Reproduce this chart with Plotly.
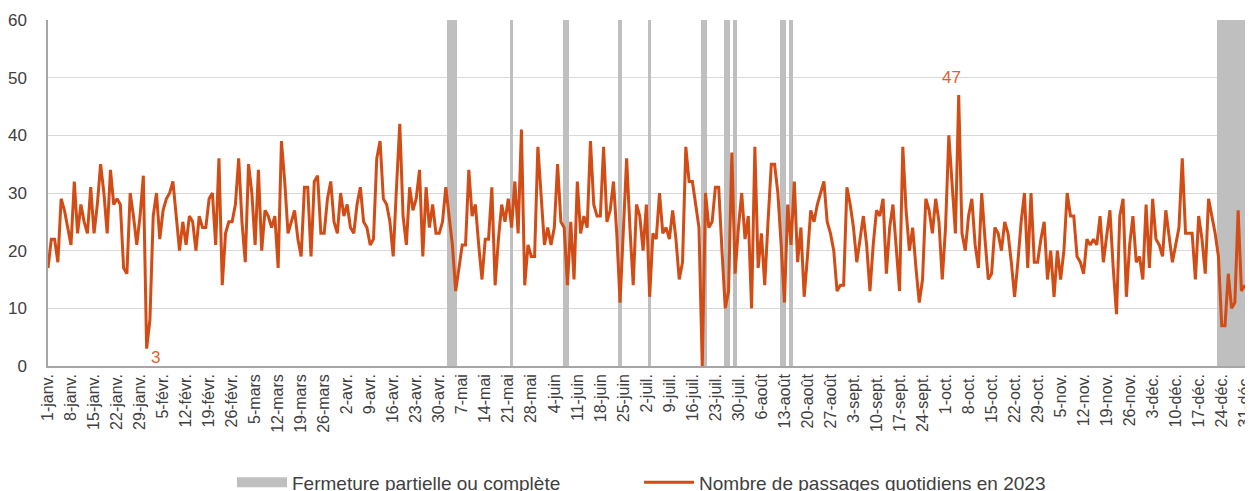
import plotly.graph_objects as go

# Daily values (day index 0 = 1 Jan 2023)
jan = [17,22,22,18,29,27,24,21,32,23,28,25,23,31,23,28,35,30,23,34,28,29,28,17,16,30,26,21,26,33,3]
feb = [8,26,30,22,27,29,30,32,26,20,25,21,26,25,20,26,24,24,29,30,21,36,14,23,25,25,28,36]
mar = [25,18,35,30,21,34,20,27,26,24,26,17,39,32,23,25,27,22,19,31,31,19,32,33,23,23,29,32,25,23,30]
apr = [26,28,24,23,28,31,25,24,21,22,36,39,29,28,25,19,31,42,26,21,31,27,29,34,19,31,24,28,23,23]
may = [25,31,26,21,13,17,21,21,34,26,28,21,15,22,22,31,14,22,28,25,29,24,32,23,41,14,21,19,19,38,30]
jun = [21,24,21,24,35,25,24,14,25,15,32,23,26,24,39,28,26,26,38,25,27,32,23,11,23,36,24,14,28,26]
jul = [20,28,12,23,22,30,23,24,22,27,22,15,18,38,32,32,28,24,0,30,24,25,31,31,20,10,13,37,16,24,30]
aug = [22,26,10,38,17,23,14,25,35,35,30,21,11,28,21,32,18,24,12,19,27,25,28,30,32,25,23,20,13,14,14]
sep = [31,28,24,18,22,26,21,13,21,27,26,29,16,24,28,21,13,38,27,20,24,17,11,15,29,27,23,29,25,15]
oct_ = [24,40,31,23,47,23,20,26,29,21,17,30,22,15,16,24,23,20,25,23,18,12,18,25,30,17,30,18,18,22,25]
nov = [15,20,12,20,15,20,30,26,26,19,18,16,22,21,22,21,26,18,23,27,17,9,26,29,12,21,26,18,19,15]
dec = [28,17,29,22,21,19,27,22,18,21,24,36,23,23,23,15,26,22,16,29,26,23,19,7,7,16,10,11,27,13,14]

passages = jan + feb + mar + apr + may + jun + jul + aug + sep + oct_ + nov + dec
days = list(range(len(passages)))

# Closure days (partial or complete)
closure_days = [122,123,124,141,157,158,174,183,199,200,206,207,209,223,224,226,
                356,357,358,359,360,361,362,363,364]
closure_height = 60

tick_days = list(range(0, 365, 7))
tick_labels = ["1-janv.","8-janv.","15-janv.","22-janv.","29-janv.","5-févr.","12-févr.","19-févr.",
               "26-févr.","5-mars","12-mars","19-mars","26-mars","2-avr.","9-avr.","16-avr.","23-avr.",
               "30-avr.","7-mai","14-mai","21-mai","28-mai","4-juin","11-juin","18-juin","25-juin",
               "2-juil.","9-juil.","16-juil.","23-juil.","30-juil.","6-août","13-août","20-août",
               "27-août","3-sept.","10-sept.","17-sept.","24-sept.","1-oct.","8-oct.","15-oct.",
               "22-oct.","29-oct.","5-nov.","12-nov.","19-nov.","26-nov.","3-déc.","10-déc.",
               "17-déc.","24-déc.","31-déc."]

FONT = "Liberation Sans, Arial, sans-serif"
LINE_COLOR = "#D24C16"
GREY = "#BFBFBF"

fig = go.Figure()
fig.add_trace(go.Bar(
    x=closure_days, y=[closure_height] * len(closure_days), width=1,
    marker=dict(color=GREY, line=dict(width=0)),
    name="Fermeture partielle ou complète", showlegend=False))
# legend entry for closures (wide grey swatch)
fig.add_trace(go.Scatter(
    x=[None], y=[None], mode="lines", line=dict(color=GREY, width=13),
    name="Fermeture partielle ou complète"))
fig.add_trace(go.Scatter(
    x=days, y=passages, mode="lines",
    line=dict(color=LINE_COLOR, width=3),
    name="Nombre de passages quotidiens en 2023"))

imin = passages.index(min(passages[:60]))
imax = passages.index(max(passages))
fig.add_annotation(x=imin, y=passages[imin], text=str(passages[imin]), showarrow=False,
                   xshift=9, yshift=-9, font=dict(color="#E0622F", size=17, family=FONT))
fig.add_annotation(x=imax, y=passages[imax], text=str(passages[imax]), showarrow=False,
                   xshift=-7, yshift=17, font=dict(color="#E0622F", size=17, family=FONT))

fig.update_layout(
    width=1253, height=491,
    margin=dict(l=40, r=12, t=12, b=133, autoexpand=False),
    plot_bgcolor="white", paper_bgcolor="white",
    font=dict(family=FONT, color="#404040"),
    showlegend=True,
    legend=dict(orientation="h", xref="container", x=0.5036, xanchor="center",
                yref="container", y=0.034, yanchor="middle",
                font=dict(size=19, color="#404040"), traceorder="normal",
                itemwidth=50, entrywidth=342),
    bargap=0,
)
fig.update_xaxes(range=[0, 365.3], tickmode="array", tickvals=tick_days, ticktext=tick_labels,
                 tickangle=-90, tickfont=dict(size=16, color="#404040"),
                 showgrid=False, showline=True, linecolor="#A6A6A6", linewidth=1.5,
                 ticks="", zeroline=False, automargin=False)
fig.update_yaxes(range=[0, 60], dtick=10, tickfont=dict(size=17, color="#404040"),
                 showgrid=True, gridcolor="#D9D9D9", gridwidth=1,
                 showline=True, linecolor="#A6A6A6", linewidth=1.5,
                 ticks="", zeroline=False, ticklabelstandoff=16, automargin=False)

fig.write_html("out.html")
